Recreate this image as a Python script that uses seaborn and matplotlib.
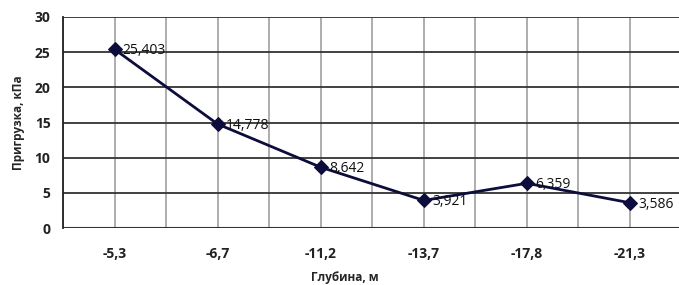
import matplotlib
matplotlib.use("Agg")
import matplotlib.pyplot as plt
import seaborn as sns
import pandas as pd

# --- data ---
depths = ["-5,3", "-6,7", "-11,2", "-13,7", "-17,8", "-21,3"]
loads = [25.403, 14.778, 8.642, 3.921, 6.359, 3.586]
load_labels = ["25,403", "14,778", "8,642", "3,921", "6,359", "3,586"]
y_ticks = [0, 5, 10, 15, 20, 25, 30]

df = pd.DataFrame({"depth": depths, "load": loads})
df["pos"] = range(len(df))

sns.set_style("white")
plt.rcParams["font.family"] = ["Open Sans", "DejaVu Sans"]

fig = plt.figure(figsize=(6.79, 2.85), dpi=100)
# plot area runs past the right edge of the picture, like the original
ax = fig.add_axes([63 / 679, 57 / 285, 618.5 / 679, 211 / 285])

line_col = "#0d0d3d"
sns.lineplot(data=df, x="pos", y="load", ax=ax, color=line_col, lw=2,
             marker="D", markersize=7, markeredgecolor=line_col, zorder=3)

for x, y, lab in zip(df["pos"], df["load"], load_labels):
    ax.annotate(lab, (x, y), xytext=(6, -1), textcoords="offset points",
                va="center", ha="left", fontsize=10, color="#111111", zorder=4)

ax.set_xlim(-0.5, len(depths) - 0.5)
ax.set_ylim(0, 30)
ax.set_yticks(y_ticks)
ax.set_xticks(df["pos"])
ax.set_xticklabels(depths)

# vertical grid at categories and half-steps (gray), horizontal grid dark
for k in range(len(depths) * 2):
    ax.axvline(-0.5 + k * 0.5, color="#a0a0a0", lw=1.2, zorder=1)
for t in y_ticks[1:]:
    ax.axhline(t, color="#333333", lw=1.3, zorder=1)

for s in ["right", "bottom", "top"]:
    ax.spines[s].set_visible(False)
ax.spines["left"].set_color("#222222")
ax.spines["left"].set_linewidth(1.3)
ax.axhline(0, color="#333333", lw=1.5, zorder=2)

ax.tick_params(axis="both", length=0, labelsize=10)
ax.tick_params(axis="x", pad=14)
ax.tick_params(axis="y", pad=9)
for lbl in ax.get_xticklabels() + ax.get_yticklabels():
    lbl.set_fontweight("bold")
    lbl.set_color("#222222")

ax.set_xlabel("Глубина, м", fontsize=8.5, fontweight="bold")
ax.set_ylabel("Пригрузка, кПа", fontsize=8.5, fontweight="bold", labelpad=7)
ax.xaxis.set_label_coords((345 - 63) / 618.5, -(277 - 228) / 211)
ax.xaxis.label.set_va("center")

fig.savefig("out.png", dpi=100)
plt.close(fig)
